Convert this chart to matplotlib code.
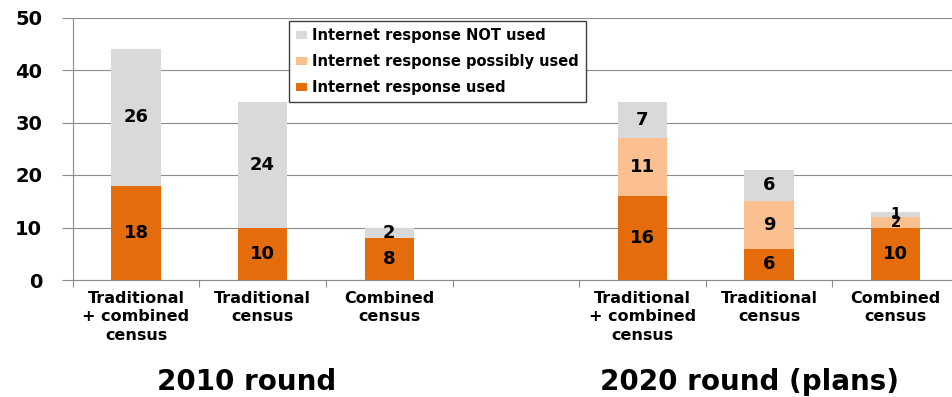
import matplotlib
matplotlib.use("Agg")
import matplotlib.pyplot as plt
import numpy as np

categories = ["Traditional\n+ combined\ncensus", "Traditional\ncensus", "Combined\ncensus", "",
              "Traditional\n+ combined\ncensus", "Traditional\ncensus", "Combined\ncensus"]
used = [18, 10, 8, 0, 16, 6, 10]
possibly = [0, 0, 0, 0, 11, 9, 2]
not_used = [26, 24, 2, 0, 7, 6, 1]
series_names = ["Internet response used", "Internet response possibly used", "Internet response NOT used"]
group_titles = ["2010 round", "2020 round (plans)"]
yticks = [0, 10, 20, 30, 40, 50]

colors = ["#E46C0A", "#FAC090", "#D9D9D9"]

plt.rcParams['font.family'] = ['DejaVu Sans']
fig = plt.figure(figsize=(9.53, 3.97), dpi=100)
ax = fig.add_axes([72.7 / 953, 117 / 397, 886.3 / 953, 262.5 / 397])

x = np.arange(len(categories))
w = 0.39
nseg = (np.array(used) > 0).astype(int) + (np.array(possibly) > 0) + (np.array(not_used) > 0)
bottoms = np.zeros(len(x))
handles = []
for vals, col, name in zip([used, possibly, not_used], colors, series_names):
    vals = np.array(vals, dtype=float)
    b = ax.bar(x, vals, w, bottom=bottoms, color=col, label=name, zorder=2)
    handles.append(b)
    for i, (xi, v, bt) in enumerate(zip(x, vals, bottoms)):
        if v > 0:
            fs = 10.5 if (v <= 2 and nseg[i] > 2) else 13
            ax.text(xi, bt + v / 2, f"{int(v)}", ha='center', va='center',
                    fontsize=fs, fontweight='bold', color='black', zorder=3)
    bottoms += vals

ax.set_xlim(-0.5, len(x) - 0.5)
ax.set_ylim(0, 50)
ax.set_yticks(yticks)
ax.set_yticklabels([str(t) for t in yticks], fontsize=14, fontweight='bold')
ax.tick_params(axis='y', length=8, width=0.8, color='#8C8C8C', pad=14)
ax.yaxis.grid(True, color='#8C8C8C', linewidth=0.8, zorder=0)
ax.set_axisbelow(True)

ax.set_xticks(x)
ax.set_xticklabels(categories, fontsize=11.5, fontweight='bold', linespacing=1.28)
ax.tick_params(axis='x', which='major', length=0, pad=8)
ax.set_xticks(np.arange(len(x) + 1) - 0.5, minor=True)
ax.tick_params(axis='x', which='minor', length=5, width=0.8, color='#8C8C8C')

for s in ['top', 'right']:
    ax.spines[s].set_visible(False)
for s in ['left', 'bottom']:
    ax.spines[s].set_color('#8C8C8C')
    ax.spines[s].set_linewidth(0.8)

leg = ax.legend(handles[::-1], series_names[::-1], loc='upper left',
                bbox_to_anchor=(0.244, 0.987), fontsize=10.5, frameon=True,
                fancybox=False, edgecolor='#404040', framealpha=1,
                handlelength=0.75, handleheight=0.55, handletextpad=0.35,
                labelspacing=0.75, borderpad=0.5, borderaxespad=0)
for t in leg.get_texts():
    t.set_fontweight('bold')
leg.get_frame().set_linewidth(1.0)

fig.text(247 / 953, 1 - 382 / 397, group_titles[0], ha='center', va='center',
         fontsize=20, fontweight='bold')
fig.text(750 / 953, 1 - 382 / 397, group_titles[1], ha='center', va='center',
         fontsize=20, fontweight='bold')

fig.savefig("out.png", dpi=100)
